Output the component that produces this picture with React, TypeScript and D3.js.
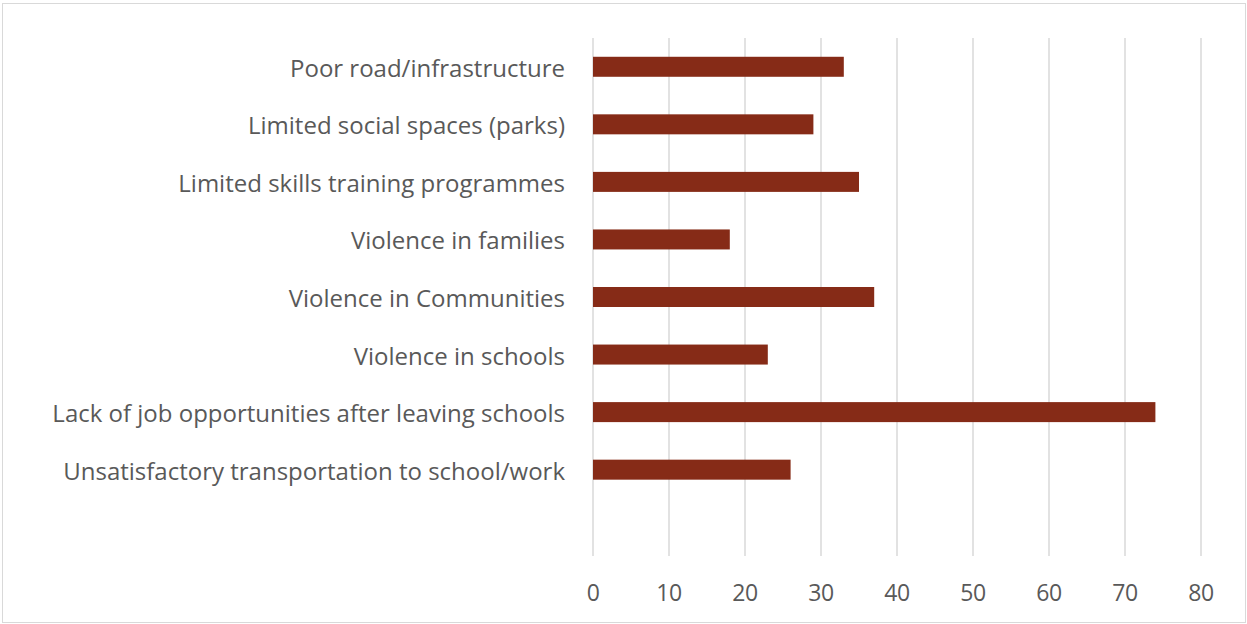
import React from "react";
import * as d3 from "d3";

const categories = [
  "Poor road/infrastructure",
  "Limited social spaces (parks)",
  "Limited skills training programmes",
  "Violence in families",
  "Violence in Communities",
  "Violence in schools",
  "Lack of job opportunities after leaving schools",
  "Unsatisfactory transportation to school/work",
];
const values = [33, 29, 35, 18, 37, 23, 74, 26];
const ticks = [0, 10, 20, 30, 40, 50, 60, 70, 80];

const W = 1247;
const H = 624;
const FONT = "'Open Sans', sans-serif";

export default function App() {
  const x = d3.scaleLinear().domain([0, 80]).range([593, 1201]);
  const slots = [...categories, ""];
  const y = d3.scaleBand().domain(slots.map((_, i) => String(i))).range([38, 556]);
  const bh = 20;
  return (
    <svg width={W} height={H} style={{ position: "absolute", left: 0, top: 0 }}>
      <rect x={0} y={0} width={W} height={H} fill="#fff" />
      <rect x={2.5} y={3.5} width={W - 4} height={H - 5} fill="none" stroke="#d9d9d9" strokeWidth={1} />
      {ticks.map((t) => (
        <g key={t}>
          <line x1={x(t)} x2={x(t)} y1={38} y2={556} stroke="#d9d9d9" strokeWidth={1.5} />
          <text x={x(t)} y={601} textAnchor="middle" fontFamily={FONT} fontSize={23} fill="#595959" letterSpacing={-0.5}>
            {t}
          </text>
        </g>
      ))}
      {categories.map((c, i) => {
        const cy = (y(String(i)) as number) + y.bandwidth() / 2;
        return (
          <g key={c}>
            <rect x={x(0)} y={cy - bh / 2} width={x(values[i]) - x(0)} height={bh} fill="#862B17" />
            <text x={565} y={cy + 10} textAnchor="end" fontFamily={FONT} fontSize={24} fill="#595959">
              {c}
            </text>
          </g>
        );
      })}
    </svg>
  );
}
